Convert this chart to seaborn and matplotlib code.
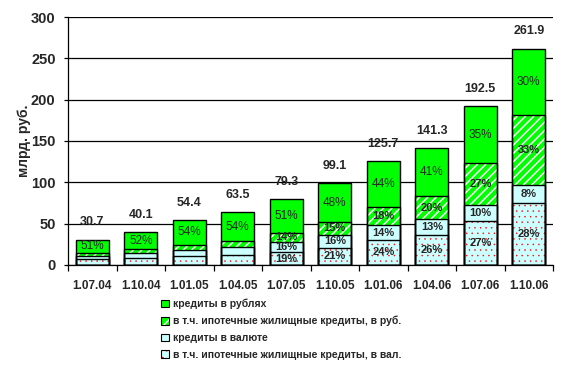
import numpy as np
import pandas as pd
import seaborn as sns
import matplotlib.pyplot as plt
from matplotlib.patches import Patch

# Data (billion rubles)
dates = ["1.07.04", "1.10.04", "1.01.05", "1.04.05", "1.07.05",
         "1.10.05", "1.01.06", "1.04.06", "1.07.06", "1.10.06"]
totals = [30.7, 40.1, 54.4, 63.5, 79.3, 99.1, 125.7, 141.3, 192.5, 261.9]
mort_fx = [7.7, 8.9, 10.9, 12.1, 15.1, 20.8, 30.2, 36.7, 52.9, 75.1]
other_fx = [3.2, 5.2, 7.3, 9.7, 12.7, 15.9, 17.6, 18.4, 19.4, 21.4]
mort_rub = [3.2, 4.9, 6.4, 7.3, 11.1, 14.9, 22.6, 28.3, 50.8, 84.7]
other_rub = [16.6, 21.1, 29.8, 34.4, 40.4, 47.5, 55.3, 57.9, 69.4, 80.7]

# Share labels (as printed on the chart)
pct_mort_fx = ["", "", "", "", "19%", "21%", "24%", "26%", "27%", "28%"]
pct_other_fx = ["", "", "", "", "16%", "16%", "14%", "13%", "10%", "8%"]
pct_mort_rub = ["", "", "", "", "14%", "15%", "18%", "20%", "27%", "33%"]
pct_other_rub = ["51%", "52%", "54%", "54%", "51%", "48%", "44%", "41%", "35%", "30%"]

labels = ["кредиты в рублях",
          "в т.ч. ипотечные жилищные кредиты, в руб.",
          "кредиты в валюте",
          "в т.ч. ипотечные жилищные кредиты, в вал."]

GREEN = "#00ff00"
CYAN = "#ccffff"
SANS = ["Liberation Sans", "DejaVu Sans"]

sns.set_style("white")
plt.rcParams["font.family"] = SANS
plt.rcParams["hatch.linewidth"] = 1.0


def hatch_width(patches, lw):
    # per-patch hatch width where matplotlib supports it
    for p in patches:
        if hasattr(p, "set_hatch_linewidth"):
            p.set_hatch_linewidth(lw)


df = pd.DataFrame({"date": dates, "mort_fx": mort_fx, "other_fx": other_fx,
                   "mort_rub": mort_rub, "other_rub": other_rub})
df["c1"] = df["mort_fx"]
df["c2"] = df["c1"] + df["other_fx"]
df["c3"] = df["c2"] + df["mort_rub"]
df["c4"] = df["c3"] + df["other_rub"]

fig = plt.figure(figsize=(5.62, 3.70), dpi=100)
ax = fig.add_axes([0.121, 0.284, 0.863, 0.670])

W = 0.68
# layers drawn from top cumulative down, each one covering the lower part
layers = [
    ("c4", GREEN, None, GREEN, 1.0),
    ("c3", GREEN, "////", "white", 1.1),
    ("c2", CYAN, None, CYAN, 1.0),
    ("c1", CYAN, "...", "red", 0.3),
]
for col, face, hatch, hcol, hlw in layers:
    n0 = len(ax.patches)
    sns.barplot(data=df, x="date", y=col, color=face, saturation=1, width=W,
                hatch=hatch, edgecolor=hcol, linewidth=0, ax=ax, zorder=2)
    hatch_width(ax.patches[n0:], hlw)
    sns.barplot(data=df, x="date", y=col, fill=False, width=W,
                edgecolor="black", linewidth=1.0, ax=ax, zorder=3)

# share labels at the middle of each segment
x = np.arange(len(dates))
mids = [
    (df["c1"] / 2, pct_mort_fx, "bold", 8),
    ((df["c1"] + df["c2"]) / 2, pct_other_fx, "bold", 8),
    ((df["c2"] + df["c3"]) / 2, pct_mort_rub, "bold", 8),
    ((df["c3"] + df["c4"]) / 2, pct_other_rub, "normal", 8.5),
]
for ys, txts, wt, fs in mids:
    for xi, yi, t in zip(x, ys, txts):
        if t:
            ax.text(xi, yi, t, ha="center", va="center", fontsize=fs,
                    fontweight=wt, zorder=5)

# totals above bars
for xi, tot in zip(x, totals):
    ax.annotate(f"{tot:.1f}", (xi, tot), xytext=(0, 8), textcoords="offset points",
                ha="center", va="bottom", fontsize=9, fontweight="bold", zorder=5)

ax.set_ylim(0, 300)
ax.set_xlim(-0.5, len(dates) - 0.5)
ax.set_yticks(range(0, 301, 50))
ax.yaxis.grid(True, color="black", linewidth=0.9)
ax.set_axisbelow(True)
ax.set_xlabel("")
ax.set_ylabel("млрд. руб.", fontsize=10, fontweight="bold")
ax.yaxis.set_label_coords(-0.077, 0.5)

for s in ["top", "right"]:
    ax.spines[s].set_visible(False)
for s in ["left", "bottom"]:
    ax.spines[s].set_color("black")
    ax.spines[s].set_linewidth(0.9)

ax.set_xticks(np.arange(-0.5, len(dates), 1), minor=True)
ax.tick_params(axis="x", which="major", length=0, pad=11, labelsize=8.5)
ax.tick_params(axis="x", which="minor", length=4, width=0.9, color="black",
               direction="out", bottom=True)
ax.tick_params(axis="y", length=3, width=0.9, color="black", direction="out",
               left=True, pad=6, labelsize=10.5)
for lab in ax.get_xticklabels() + ax.get_yticklabels():
    lab.set_fontweight("bold")

# legend squares: fill/hatch patch plus black outline
outline = dict(facecolor="none", edgecolor="black", linewidth=0.8)
h_green = Patch(facecolor=GREEN, edgecolor=GREEN, linewidth=0)
h_hatch = Patch(facecolor=GREEN, edgecolor="white", hatch="///", linewidth=0)
h_cyan = Patch(facecolor=CYAN, edgecolor=CYAN, linewidth=0)
h_dots = Patch(facecolor=CYAN, edgecolor="red", hatch="..", linewidth=0)
handles = [(h_green, Patch(**outline)), (h_hatch, Patch(**outline)),
           (h_cyan, Patch(**outline)), (h_dots, Patch(**outline))]
leg = fig.legend(handles, labels, loc="upper left", bbox_to_anchor=(0.287, 0.193),
                 frameon=False, handlelength=0.75, handleheight=0.75,
                 handletextpad=0.4, labelspacing=0.65, borderaxespad=0, borderpad=0,
                 prop={"weight": "bold", "size": 7.5})

fig.savefig("out.png", dpi=100)
